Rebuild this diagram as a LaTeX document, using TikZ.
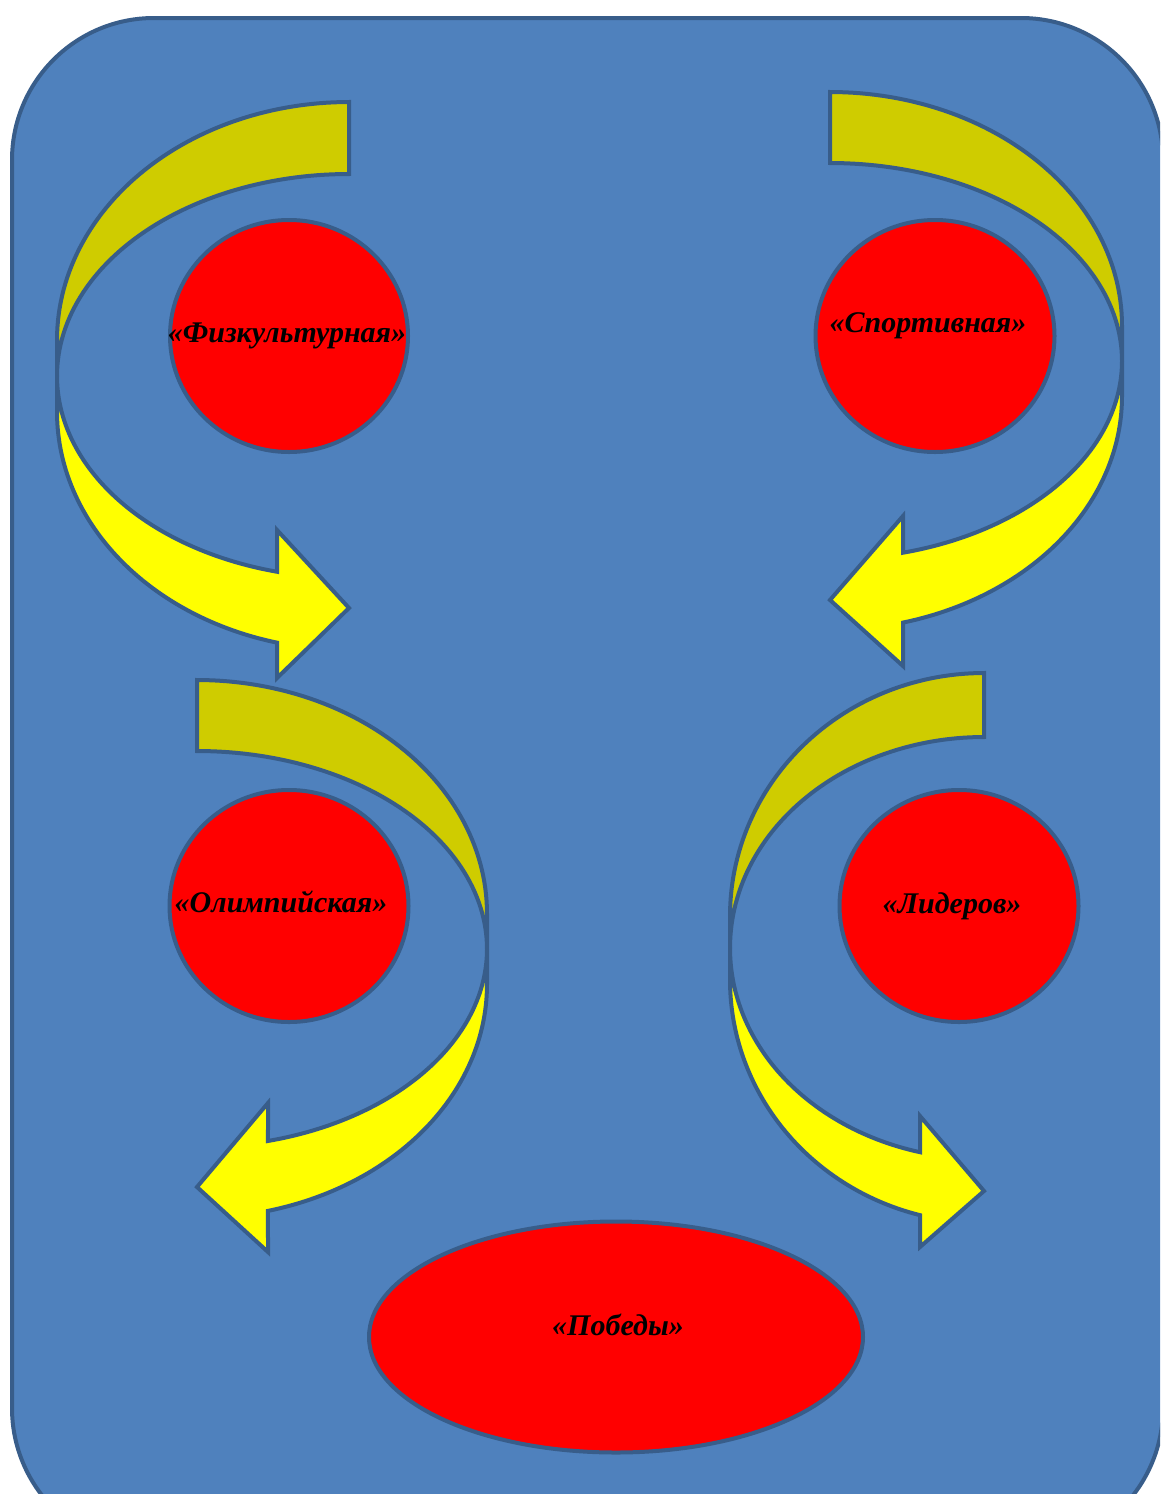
\documentclass[tikz,border=0pt]{standalone}
\usepackage{fontspec}
\setmainfont{Liberation Serif}
\usetikzlibrary{shapes.geometric}
\definecolor{bgblue}{RGB}{79,129,189}
\definecolor{edgeblue}{RGB}{56,93,138}
\definecolor{darkyel}{RGB}{207,204,0}
\definecolor{brightyel}{RGB}{255,255,0}
\definecolor{redfill}{RGB}{255,0,0}
\tikzset{
  outline/.style={draw=edgeblue, line width=4pt, line join=miter},
  backband/.style={outline, fill=darkyel},
  frontband/.style={outline, fill=brightyel},
  redoval/.style={ellipse, outline, fill=redfill, inner sep=0pt},
  lbl/.style={font=\fontsize{30}{34}\selectfont\bfseries\itshape, text=black, inner sep=0pt}
}
% #1 R, #2 T, #3 t, #4 C, #5 b, #6 hy1, #7 hy2, #8 tip y
\newcommand\bentarrow[8]{%
  \pgfmathsetmacro\rI{#4-(#2+#3)}%
  \pgfmathsetmacro\rO{(#4-#3/2)-#2}%
  \pgfmathsetmacro\thB{acos(#5/#1)}%
  \filldraw[backband] (0,#2)
    -- plot[domain=270:180, samples=60] ({#1*cos(\x)},{#4-#3/2+\rO*sin(\x)})
    -- (-#1,#4)
    -- plot[domain=180:270, samples=60] ({#1*cos(\x)},{#4+\rI*sin(\x)})
    -- cycle;
  \filldraw[frontband] (-#1,#4)
    -- plot[domain=180:\thB, samples=60] ({#1*cos(\x)},{#4+\rI*sin(\x)})
    -- (#5,#6) -- (0,#8) -- (#5,#7)
    -- plot[domain=\thB:180, samples=60] ({#1*cos(\x)},{#4+#3/2+\rO*sin(\x)})
    -- cycle;
}
\begin{document}
\begin{tikzpicture}[x=1pt,y=-1pt]
\useasboundingbox (0,0) rectangle (1160,1494);
\clip (0,0) rectangle (1160,1494);
\draw[outline, fill=bgblue, rounded corners=142pt] (12,18) rectangle (1163,1550);

% arrow 1 (top left, pointing right)
\begin{scope}[xshift=349pt]
  \bentarrow{292}{102}{72}{376}{-72}{530}{678}{608}
\end{scope}
% arrow 2 (top right, pointing left)
\begin{scope}[xshift=830pt, xscale=-1]
  \bentarrow{292}{92}{71}{361}{-73}{516}{666}{600}
\end{scope}
% arrow 3 (middle left, pointing left)
\begin{scope}[xshift=197pt, xscale=-1]
  \bentarrow{290}{680}{71}{949}{-71}{1103}{1252}{1187}
\end{scope}
% arrow 4 (middle right, pointing right)
\begin{scope}[xshift=984pt]
  \bentarrow{254}{673}{64}{948}{-64}{1116}{1247}{1191}
\end{scope}

\node[redoval, minimum width=238pt, minimum height=232pt] (fiz) at (289,336) {};
\node[lbl] (fizt) at ([xshift=-2pt]fiz.center) {«Физкультурная»};

\node[redoval, minimum width=239pt, minimum height=232pt] (spo) at (935,336) {};
\node[lbl] (spot) at ([xshift=-7pt,yshift=10pt]spo.center) {«Спортивная»};

\node[redoval, minimum width=239pt, minimum height=232pt] (oli) at (289,906) {};
\node[lbl] (olit) at ([xshift=-8pt,yshift=4pt]oli.center) {«Олимпийская»};

\node[redoval, minimum width=239pt, minimum height=232pt] (lid) at (959,906) {};
\node[lbl] (lidt) at ([xshift=-7pt]lid.center) {«Лидеров»};

\node[redoval, minimum width=494pt, minimum height=231pt] (pob) at (616,1337) {};
\node[lbl] (pobt) at ([xshift=2pt,yshift=12pt]pob.center) {«Победы»};
\end{tikzpicture}
\end{document}
